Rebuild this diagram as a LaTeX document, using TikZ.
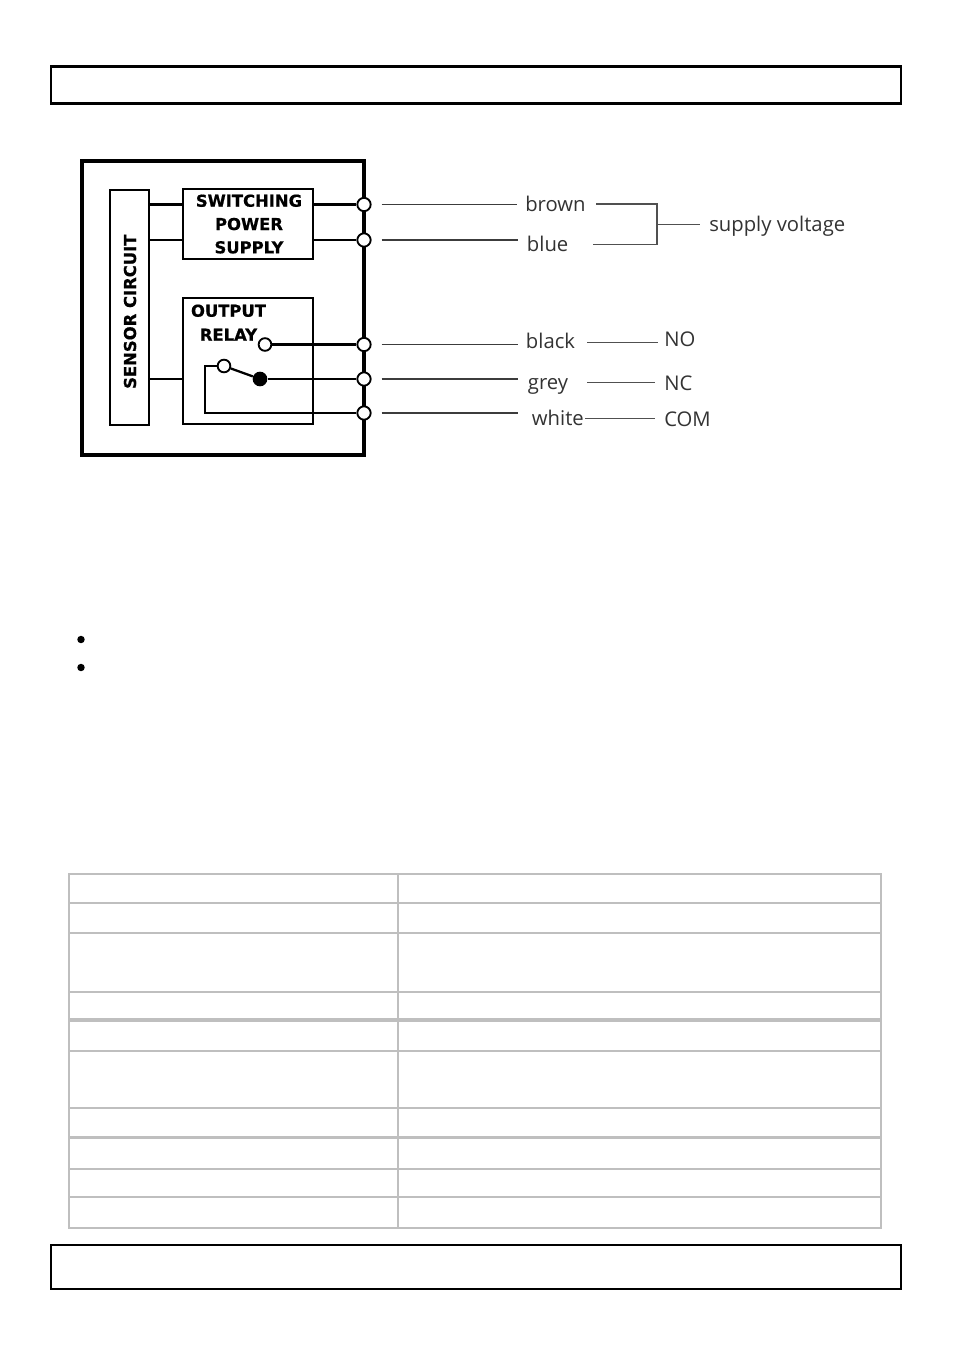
\documentclass[tikz,border=0pt]{standalone}
\usepackage{fontspec}
\setmainfont{Open Sans}
\newfontfamily\blockfont{DejaVu Sans}[BoldFeatures={FakeBold=0.7}]
\definecolor{wiregray}{HTML}{3C3C3C}
\definecolor{bracketgray}{HTML}{505050}
\definecolor{labelgray}{HTML}{333333}
\definecolor{tablegray}{HTML}{BFBFBF}
\begin{document}
\begin{tikzpicture}[x=0.75pt,y=-0.75pt,
  blockbox/.style={draw, line width=1.7pt, inner sep=0pt, outer sep=0pt, anchor=north west},
  outerbox/.style={draw, line width=2.3pt, inner sep=0pt, outer sep=0pt, anchor=north west},
  terminal/.style={circle, draw, fill=white, line width=1.4pt, inner sep=0pt, minimum size=10pt},
  contact/.style={circle, draw, fill=white, line width=1.4pt, inner sep=0pt, minimum size=9.5pt},
  closedcontact/.style={circle, fill=black, inner sep=0pt, minimum size=11pt},
  intwire/.style={line width=1.7pt},
  extwire/.style={draw=wiregray, line width=1.4pt},
  thinwire/.style={draw=bracketgray, line width=1.1pt},
  wirelabel/.style={font=\fontsize{15.2}{18}\selectfont, text=labelgray, inner sep=0pt, anchor=base west},
  blocktext/.style={font=\blockfont\bfseries\fontsize{12.3}{18}\selectfont, inner sep=0pt, anchor=base},
  pagebox/.style={draw, line width=1.9pt, inner sep=0pt, outer sep=0pt, anchor=north west},
  tableline/.style={draw=tablegray, line width=1.5pt},
  bulletdot/.style={circle, fill=black, inner sep=0pt, minimum size=5.6pt},
]
\useasboundingbox (0,0) rectangle (954,1354);
\fill[white] (0,0) rectangle (954,1354);

% page frames
\node[pagebox, minimum width=637.5pt, minimum height=27.75pt] (header) at (51,66.5) {};
\node[pagebox, minimum width=637.5pt, minimum height=33pt] (footer) at (51,1245) {};

% ---------- wiring diagram ----------
\node[outerbox, minimum width=211.5pt, minimum height=220.5pt] (outer) at (82,161) {};
\node[blockbox, minimum width=29.25pt, minimum height=176.25pt] (sensor) at (110,190) {};
\node[blockbox, minimum width=97.5pt, minimum height=52.5pt] (sps) at (183,189) {};
\node[blockbox, minimum width=97.5pt, minimum height=94.5pt] (relay) at (183,298) {};

\node[blocktext, rotate=90] (sensortxt) at (136,311.7) {SENSOR CIRCUIT};
\node[blocktext] (spsA) at (249,206.7) {SWITCHING};
\node[blocktext] (spsB) at (249,230) {POWER};
\node[blocktext] (spsC) at (249,253.3) {SUPPLY};
\node[blocktext] (relA) at (228.5,316.7) {OUTPUT};
\node[blocktext] (relB) at (228.5,340.7) {RELAY};

% terminals
\node[terminal] (t1) at (364,204.5) {};
\node[terminal] (t2) at (364,240) {};
\node[terminal] (t3) at (364,344.5) {};
\node[terminal] (t4) at (364,379) {};
\node[terminal] (t5) at (364,413) {};

% relay contacts
\node[contact] (no) at (265,344.5) {};
\node[contact] (com) at (224,366) {};
\node[closedcontact] (nc) at (260,379) {};

% internal wiring
\draw[intwire] (sensor.east |- t1) -- (sps.west |- t1);
\draw[intwire] (sensor.east |- t2) -- (sps.west |- t2);
\draw[intwire] (sensor.east |- t4) -- (relay.west |- t4);
\draw[intwire] (sps.east |- t1) -- (t1);
\draw[intwire] (sps.east |- t2) -- (t2);
\draw[intwire] (no) -- (t3);
\draw[intwire] (nc) -- (t4);
\draw[intwire] (com) -- (nc);
\draw[intwire] (com.west) -- ++(-12,0) |- (t5);

% external labels
\node[wirelabel] (brown) at (525,211.5) {brown};
\node[wirelabel] (blue) at (526.7,251) {blue};
\node[wirelabel] (black) at (525.7,348.3) {black};
\node[wirelabel] (grey) at (527.7,389.5) {grey};
\node[wirelabel] (white) at (531.7,425.7) {white};
\node[wirelabel] (supply) at (709,231) {supply voltage};
\node[wirelabel] (nolab) at (664,346.7) {NO};
\node[wirelabel] (nclab) at (664,390) {NC};
\node[wirelabel] (comlab) at (664,426.7) {COM};

% external wires
\draw[extwire, shorten <=7.5pt, shorten >=6pt] (t1) -- (brown.west |- t1);
\draw[extwire, shorten <=7.5pt, shorten >=6.75pt] (t2) -- (blue.west |- t2);
\draw[extwire, shorten <=7.5pt, shorten >=6pt] (t3) -- (black.west |- t3);
\draw[extwire, shorten <=7.5pt, shorten >=7.5pt] (t4) -- (grey.west |- t4);
\draw[extwire, shorten <=7.5pt, shorten >=10.5pt] (t5) -- (white.west |- t5);

% supply bracket
\coordinate (brEnd) at (596,204);
\coordinate (blEnd) at (593,244.3);
\coordinate (join) at (657,224.3);
\draw[thinwire] (brEnd) -| (join) |- (blEnd);
\draw[thinwire, shorten >=6.75pt] (join) -- (supply.west |- join);

% function wires
\draw[thinwire, shorten <=9pt, shorten >=4.7pt] (black.east |- 0,342.7) -- (nolab.west |- 0,342.7);
\draw[thinwire, shorten <=14pt, shorten >=6.75pt] (grey.east |- 0,382.7) -- (nclab.west |- 0,382.7);
\draw[thinwire, shorten <=0.5pt, shorten >=6.75pt] (white.east |- 0,418.3) -- (comlab.west |- 0,418.3);

% bullets
\node[bulletdot] (bullet1) at (81,639.5) {};
\node[bulletdot] (bullet2) at (81,667.5) {};

% table
\draw[tableline] (69,874) rectangle (881,1227.7);
\draw[tableline] (398,874) -- (398,1227.7);
\foreach \yy in {902.7,932.7,991.7,1050.7,1107.7,1169,1197}
  \draw[tableline] (69,\yy) -- (881,\yy);
\foreach \yy in {1020,1137.7}
  \draw[draw=tablegray, line width=2.4pt] (69,\yy) -- (881,\yy);
\end{tikzpicture}
\end{document}
